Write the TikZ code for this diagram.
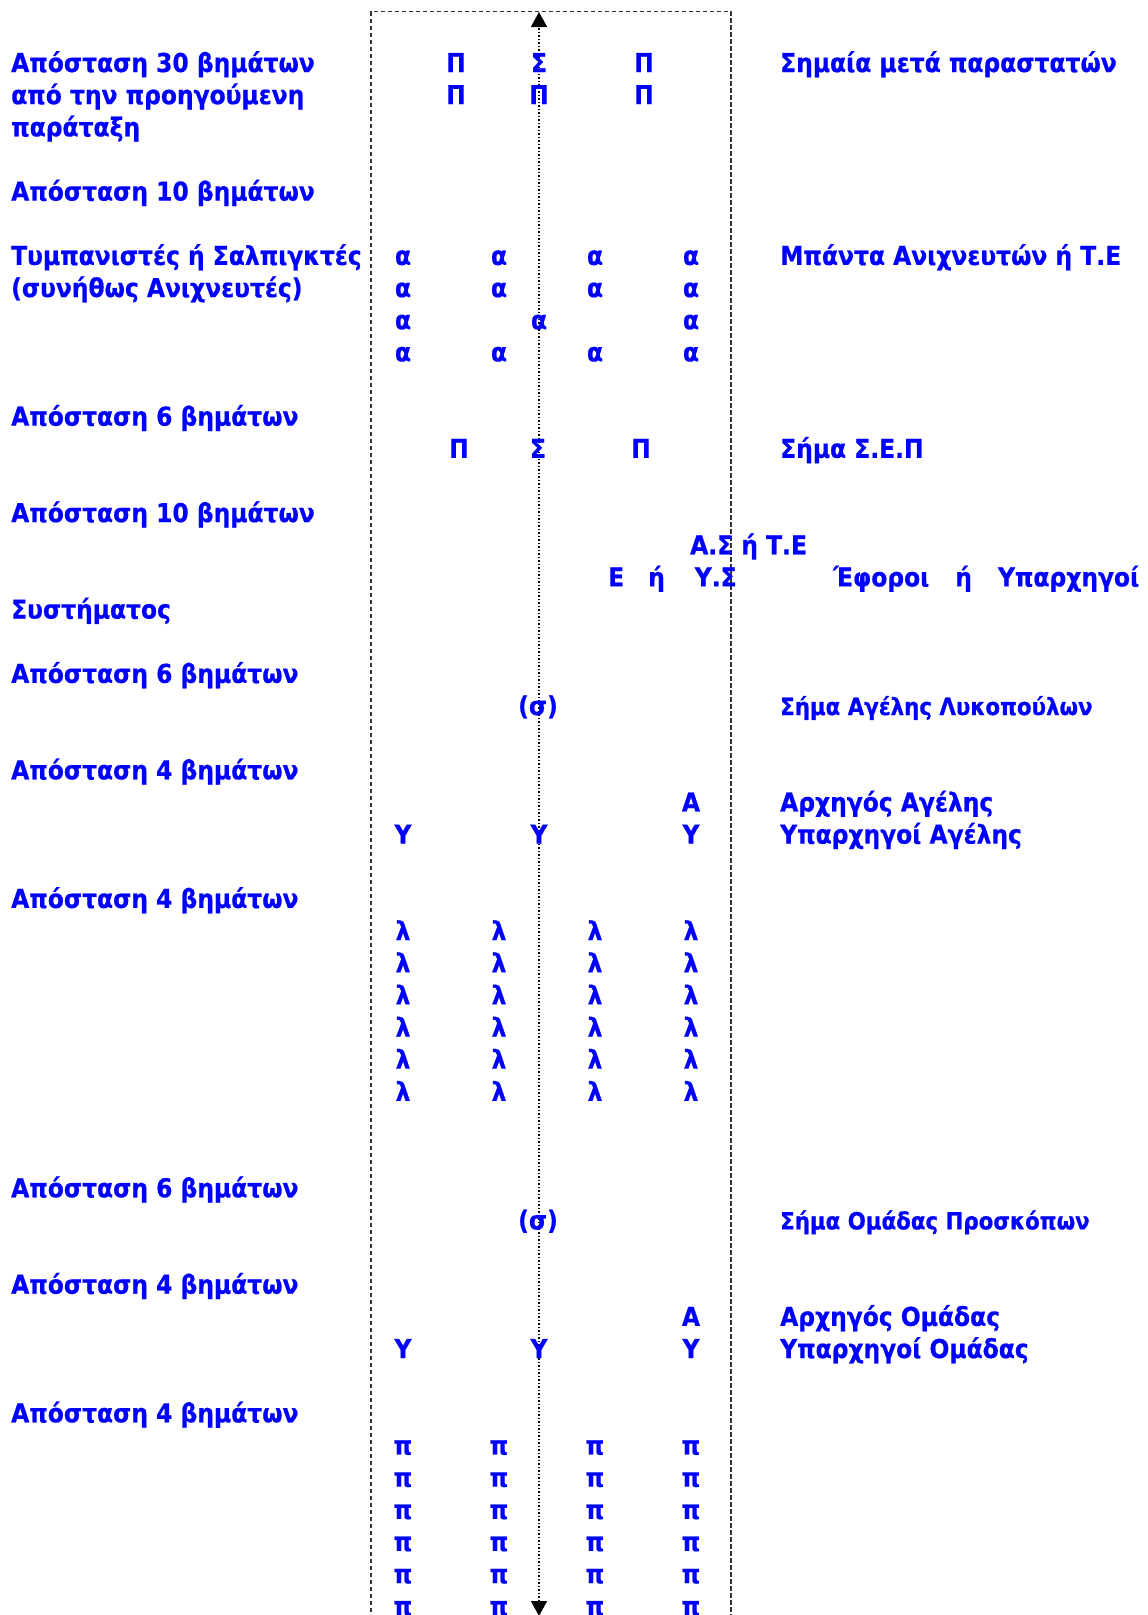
\documentclass[tikz,border=0pt]{standalone}
\usepackage{fontspec}
\setmainfont{DejaVu Sans}[FakeStretch=0.9,BoldFeatures={FakeBold=0.6}]
\usetikzlibrary{arrows.meta}
\definecolor{scoutblue}{RGB}{0,0,255}
\tikzset{
  lbl/.style={text=scoutblue,font=\fontsize{26}{32}\selectfont\bfseries,inner sep=0pt,anchor=base west},
  smalllbl/.style={lbl,font=\fontsize{23.7}{28}\selectfont\bfseries},
  member/.style={text=scoutblue,font=\fontsize{26}{32}\selectfont\bfseries,inner sep=0pt,anchor=base}
}
\begin{document}
\begin{tikzpicture}[x=1pt,y=-1pt]
        \useasboundingbox (0,0) rectangle (1148,1615);
        % column of the parade
        \draw[dash pattern=on 4.5pt off 2.5pt,line width=1.3pt,black!80] (371,1640) |- (731,11.7) -- (731,1640);
        \coordinate (front) at (539,12);
        \coordinate (rear) at (539,1616);
        \draw[dotted,line width=1.5pt,{Triangle[length=15pt,width=16pt]}-{Triangle[length=15pt,width=16pt]}] (rear) -- (front);
        \begin{scope}[yshift=-72pt,y=-32.15pt]
        % left column texts
        \foreach \k/\t in {0/{Απόσταση 30 βημάτων},1/{από την προηγούμενη},2/{παράταξη},
                4/{Απόσταση 10 βημάτων},6/{Τυμπανιστές ή Σαλπιγκτές},7/{(συνήθως Ανιχνευτές)},
                11/{Απόσταση 6 βημάτων},14/{Απόσταση 10 βημάτων},17/{Συστήματος},
                19/{Απόσταση 6 βημάτων},22/{Απόσταση 4 βημάτων},26/{Απόσταση 4 βημάτων},
                35/{Απόσταση 6 βημάτων},38/{Απόσταση 4 βημάτων},42/{Απόσταση 4 βημάτων}}
            \node[lbl] (left\k) at (11,\k) {\t};
        % right column texts
        \foreach \k/\t in {0/{Σημαία μετά παραστατών},6/{Μπάντα Ανιχνευτών ή Τ.Ε},12/{Σήμα Σ.Ε.Π},
                23/{Αρχηγός Αγέλης},24/{Υπαρχηγοί Αγέλης},39/{Αρχηγός Ομάδας},40/{Υπαρχηγοί Ομάδας}}
            \node[lbl] (right\k) at (780,\k) {\t};
        \node[smalllbl] (right20) at (780,20) {Σήμα Αγέλης Λυκοπούλων};
        \node[smalllbl] (right36) at (780,36) {Σήμα Ομάδας Προσκόπων};
        \node[lbl] (right16) at (833,16) {Έφοροι\hspace{26pt}ή\hspace{26pt}Υπαρχηγοί};
        % flag and escorts
        \foreach \k in {0,1}
            \foreach \x/\t in {456/Π,644/Π}
                \node[member] (flag\k-\x) at (\x,\k) {\t};
        \node[member] (flag0-539) at (539,0) {Σ};
        \node[member] (flag1-539) at (539,1) {Π};
        % band
        \foreach \k in {6,7,9}
            \foreach \x in {403,499,595,691}
                \node[member] (band\k-\x) at (\x,\k) {α};
        \foreach \x in {403,539,691}
            \node[member] (band8-\x) at (\x,8) {α};
        % sign of the association
        \foreach \x/\t in {459/Π,538/Σ,641/Π}
            \node[member] (sign\x) at (\x,12) {\t};
        % commissioners
        \node[lbl] (chief) at (690,15) {Α.Σ ή Τ.Ε};
        \node[lbl] (deputy) at (608,16) {Ε\hspace{24pt}ή\hspace{30pt}Υ.Σ};
        % pack and troop
        \foreach \s/\c/\m in {20/27/λ,36/43/π}{
            \node[member] (sigma\s) at (538,\s) {(σ)};
            \pgfmathtruncatemacro\a{\s+3}
            \pgfmathtruncatemacro\u{\s+4}
            \node[member] (leader\s) at (691,\a) {Α};
            \foreach \x in {403,539,691}
                \node[member] (assist\s-\x) at (\x,\u) {Υ};
            \foreach \k in {0,...,5}
                \foreach \x in {403,499,595,691}
                    \node[member] (cub\s-\k-\x) at (\x,\c+\k) {\m};
        }
        \end{scope}
    \end{tikzpicture}
\end{document}
